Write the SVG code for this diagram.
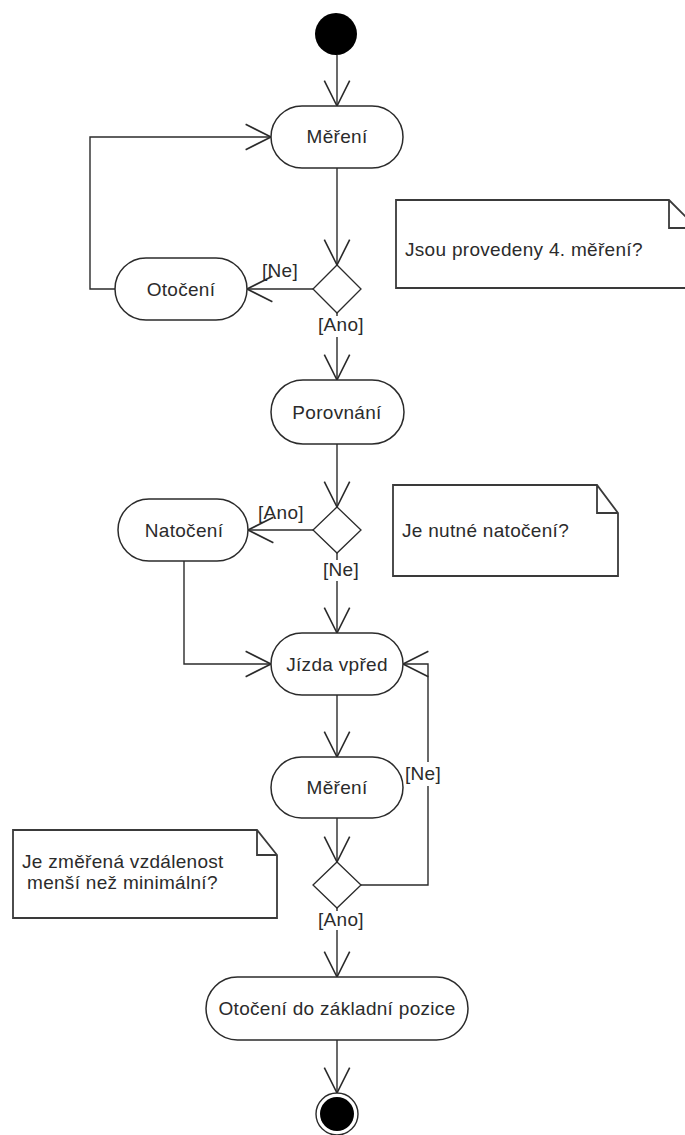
<svg xmlns="http://www.w3.org/2000/svg" width="685" height="1135" viewBox="0 0 685 1135">
  <defs>
    <style>
      .action { fill: #fff; stroke: #2b2b2b; stroke-width: 1.5; }
      .decision { fill: #fff; stroke: #2b2b2b; stroke-width: 1.3; }
      .note { fill: #fff; stroke: #3a3a3a; stroke-width: 1.8; }
      .flow { fill: none; stroke: #2b2b2b; stroke-width: 1.4; marker-end: url(#open); }
      .label { font-family: "Liberation Sans", Arial, sans-serif; font-size: 19px; letter-spacing: 0.3px; fill: #2b2b2b; }
      .center { text-anchor: middle; }
    </style>
    <marker id="open" markerUnits="userSpaceOnUse" markerWidth="30" markerHeight="30" viewBox="-24 -13 26 26" refX="0" refY="0" orient="auto" overflow="visible">
      <path d="M-22,-11 L0,0 L-22,11" fill="none" stroke="#2b2b2b" stroke-width="1.4"/>
    </marker>
  </defs>

  <rect width="685" height="1135" fill="#fff"/>

  <!-- control flows -->
  <g id="connectors">
    <path class="flow" d="M337 55 V106"/>
    <path class="flow" d="M337 168 V265"/>
    <path class="flow" d="M313 289 H247"/>
    <path class="flow" d="M115 289 H90 V137 H271"/>
    <path class="flow" d="M337 313 V316 M337 337 V380"/>
    <path class="flow" d="M337 444 V507"/>
    <path class="flow" d="M313 530 H248"/>
    <path class="flow" d="M337 553 V560 M337 581 V633"/>
    <path class="flow" d="M184 561 V664 H271"/>
    <path class="flow" d="M337 695 V757"/>
    <path class="flow" d="M337 818 V862"/>
    <path class="flow" d="M361 885 H428 V786 M428 762 V664 H403"/>
    <path class="flow" d="M337 908 V911 M337 930 V977"/>
    <path class="flow" d="M337 1040 V1093"/>
  </g>

  <!-- guard labels -->
  <g id="guards" class="label">
    <text x="262" y="277">[Ne]</text>
    <text x="318" y="331">[Ano]</text>
    <text x="258" y="519">[Ano]</text>
    <text x="323" y="576">[Ne]</text>
    <text x="405" y="780">[Ne]</text>
    <text x="318" y="926">[Ano]</text>
  </g>

  <g id="start">
    <circle cx="336" cy="34" r="21" fill="#000"/>
  </g>

  <g id="mereni1">
    <rect class="action" x="271" y="106" width="132" height="62" rx="31"/>
    <text class="label center" x="337" y="143">Měření</text>
  </g>

  <g id="decision1">
    <polygon class="decision" points="337,265 361,289 337,313 313,289"/>
  </g>

  <g id="otoceni">
    <rect class="action" x="115" y="258" width="132" height="62" rx="31"/>
    <text class="label center" x="181" y="296">Otočení</text>
  </g>

  <g id="note1">
    <path class="note" d="M396 200 H669 L697 228 V288 H396 Z M669 200 V228 H697"/>
    <text class="label" x="405" y="256">Jsou provedeny 4. měření?</text>
  </g>

  <g id="porovnani">
    <rect class="action" x="271" y="380" width="133" height="64" rx="32"/>
    <text class="label center" x="337" y="419">Porovnání</text>
  </g>

  <g id="decision2">
    <polygon class="decision" points="337,507 361,530 337,553 313,530"/>
  </g>

  <g id="natoceni">
    <rect class="action" x="118" y="499" width="130" height="62" rx="31"/>
    <text class="label center" x="184" y="537">Natočení</text>
  </g>

  <g id="note2">
    <path class="note" d="M393 485 H597 L618 513 V576 H393 Z M597 485 V513 H618"/>
    <text class="label" x="402" y="537">Je nutné natočení?</text>
  </g>

  <g id="jizda">
    <rect class="action" x="271" y="633" width="132" height="62" rx="31"/>
    <text class="label center" x="337" y="671">Jízda vpřed</text>
  </g>

  <g id="mereni2">
    <rect class="action" x="271" y="757" width="132" height="61" rx="30.5"/>
    <text class="label center" x="337" y="794">Měření</text>
  </g>

  <g id="decision3">
    <polygon class="decision" points="337,862 361,885 337,908 313,885"/>
  </g>

  <g id="note3">
    <path class="note" d="M13 830 H257 L277 855 V918 H13 Z M257 830 V855 H277"/>
    <text class="label" x="22" y="868">Je změřená vzdálenost</text>
    <text class="label" x="27" y="889">menší než minimální?</text>
  </g>

  <g id="zakladni">
    <rect class="action" x="206" y="977" width="262" height="63" rx="31.5"/>
    <text class="label center" x="337" y="1015">Otočení do základní pozice</text>
  </g>

  <g id="end">
    <circle cx="337" cy="1114" r="21" fill="#fff" stroke="#2b2b2b" stroke-width="1.4"/>
    <circle cx="337" cy="1114" r="17" fill="#000"/>
  </g>
</svg>
